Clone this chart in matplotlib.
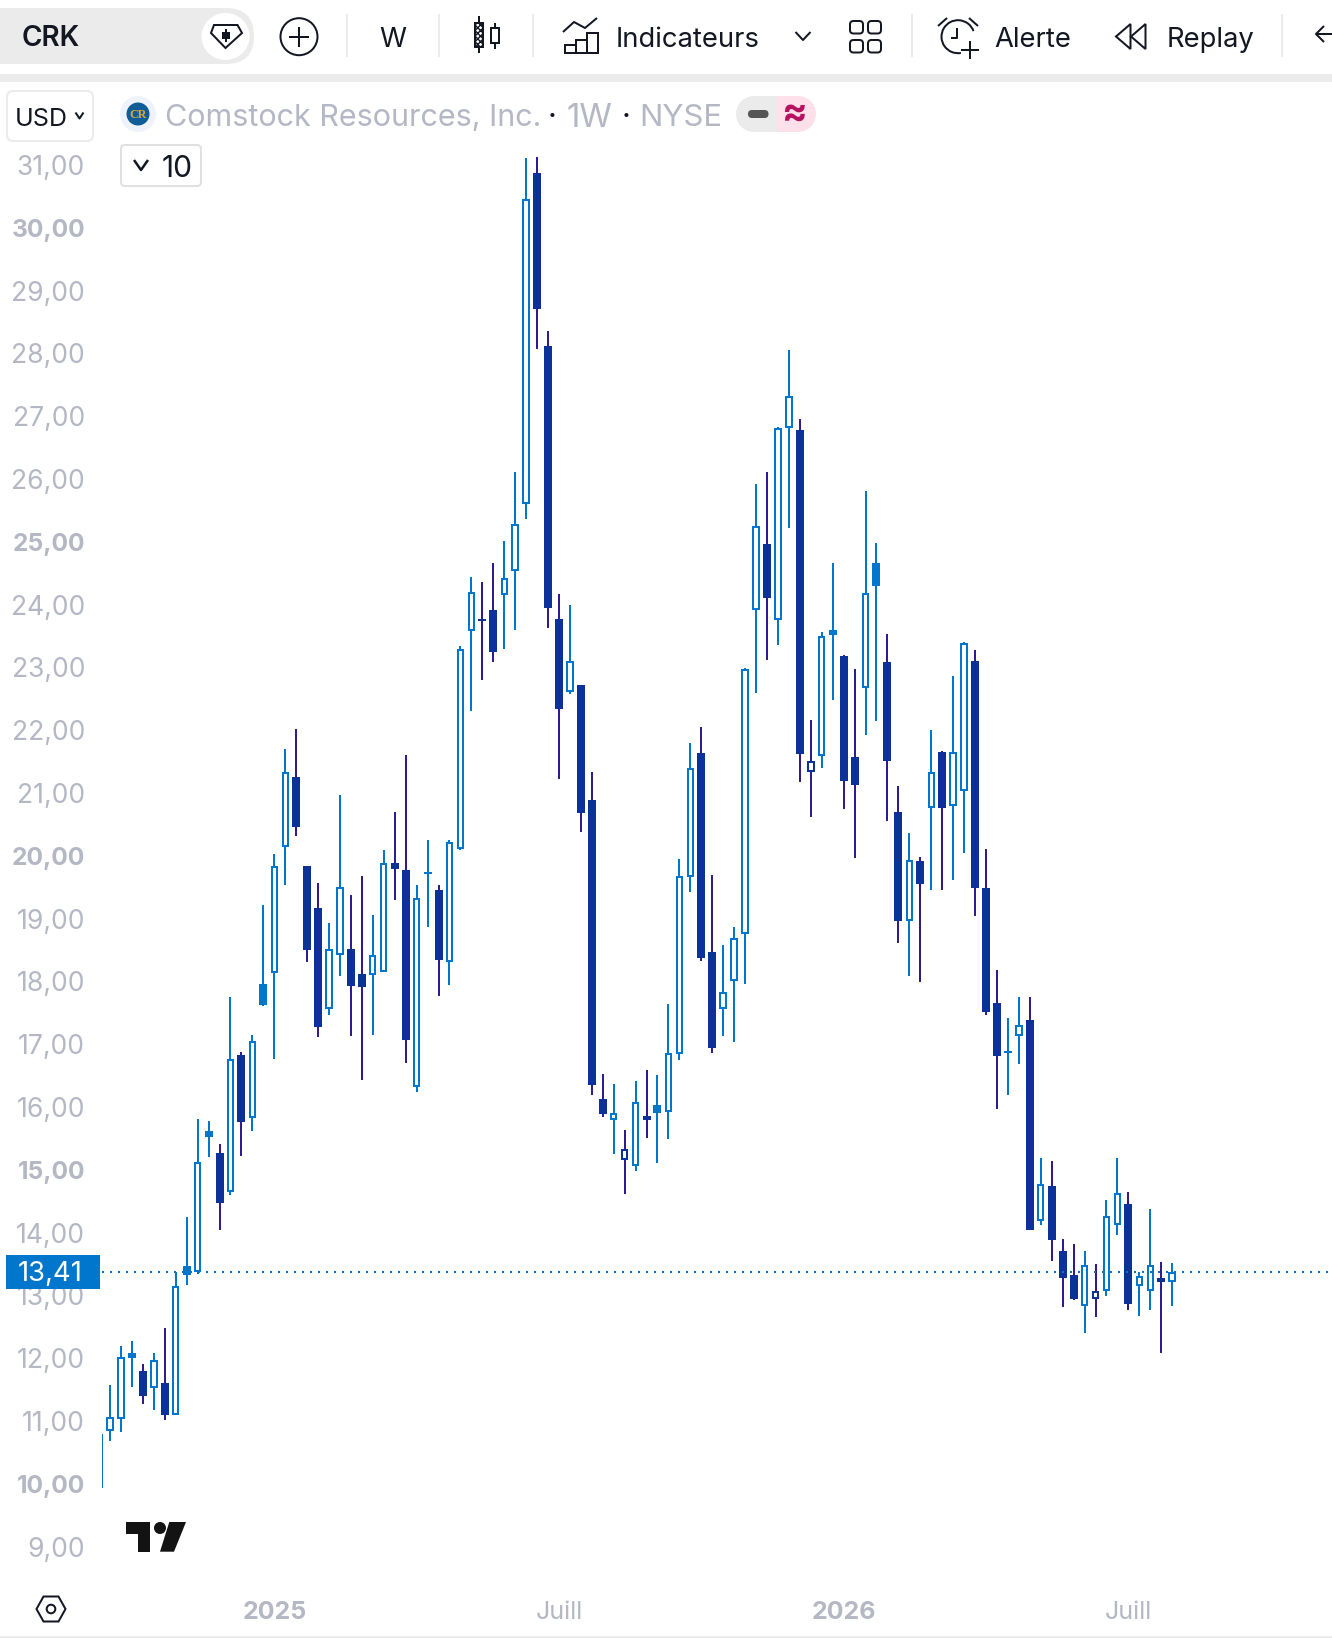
import matplotlib
matplotlib.use('Agg')
import matplotlib.pyplot as plt
from matplotlib.patches import Circle, Ellipse, FancyBboxPatch, Polygon, Rectangle, Wedge, Arc
from matplotlib.transforms import ScaledTranslation
import numpy as np

plt.rcParams['font.family'] = ['Inter', 'DejaVu Sans']

# weekly candles, h = hollow blue, f = filled blue, d = filled dark, e = hollow dark
highs = [10.83, 11.60, 12.23, 12.31, 11.94, 12.12, 12.51, 13.40, 14.28, 15.84, 15.81, 15.44, 17.78, 16.91, 17.18,
         19.25, 20.06, 21.73, 22.05, 19.87, 19.60, 18.96, 21.00, 19.41, 19.71, 19.09, 20.13, 20.73, 21.64, 19.57,
         20.28, 19.57, 20.28, 23.37, 24.47, 24.39, 24.70, 25.04, 26.14, 31.15, 31.16, 28.39, 24.20, 24.03, 22.75,
         21.37, 16.56, 16.40, 15.67, 16.45, 16.62, 16.54, 17.67, 19.98, 21.83, 22.08, 19.73, 18.61, 18.90, 23.03,
         25.95, 26.15, 26.86, 28.09, 26.99, 22.20, 23.60, 24.70, 23.23, 23.00, 25.84, 25.02, 23.57, 21.14, 20.40,
         20.01, 22.04, 21.70, 22.90, 23.43, 23.31, 20.14, 18.21, 17.45, 17.78, 17.78, 15.22, 15.17, 13.93, 13.85,
         13.74, 13.53, 14.55, 15.22, 14.68, 13.41, 14.41, 13.56, 13.55]
body_top = [10.83, 11.09, 12.05, 12.12, 11.83, 12.00, 11.64, 13.19, 13.50, 15.15, 15.65, 15.30, 16.79, 16.86, 17.08,
            17.99, 19.87, 21.37, 21.29, 19.87, 19.20, 18.55, 19.53, 18.55, 18.15, 18.45, 19.92, 19.92, 19.81, 19.36,
            19.78, 19.49, 20.26, 23.32, 24.24, 23.80, 23.95, 24.45, 25.31, 30.49, 30.91, 28.15, 23.80, 23.14, 22.75,
            20.92, 16.16, 15.93, 15.36, 16.12, 15.89, 16.06, 16.89, 19.71, 21.43, 21.67, 18.50, 17.86, 18.73, 23.01,
            25.28, 25.00, 26.84, 27.35, 26.82, 21.54, 23.54, 23.63, 23.22, 21.60, 24.21, 24.70, 23.12, 20.73, 19.96,
            19.95, 21.36, 21.69, 21.68, 23.42, 23.14, 19.52, 17.69, 16.93, 17.34, 17.42, 14.80, 14.77, 13.74, 13.36,
            13.51, 13.10, 14.29, 14.67, 14.49, 13.34, 13.51, 13.31, 13.40]
body_bot = [9.97, 10.88, 11.07, 12.04, 11.43, 11.56, 11.13, 11.13, 13.36, 13.40, 15.56, 14.50, 14.68, 15.79, 15.86,
            17.66, 18.17, 20.17, 20.49, 18.53, 17.31, 17.59, 18.45, 17.96, 17.94, 18.14, 18.18, 19.82, 17.10, 16.35,
            19.74, 18.37, 18.34, 20.14, 23.62, 23.77, 23.28, 24.19, 24.57, 25.64, 28.74, 23.98, 22.37, 22.64, 20.71,
            16.38, 15.92, 15.82, 15.19, 15.10, 15.83, 15.94, 15.95, 16.88, 19.70, 18.41, 16.97, 17.60, 18.04, 18.78,
            23.94, 24.14, 23.78, 26.84, 21.66, 21.36, 21.62, 23.55, 21.23, 21.16, 22.70, 24.33, 21.55, 19.00, 19.00,
            19.58, 20.79, 20.79, 20.83, 21.06, 19.52, 17.55, 16.84, 16.89, 17.16, 14.07, 14.21, 13.92, 13.31, 12.97,
            12.86, 12.98, 13.10, 14.16, 12.90, 13.18, 13.10, 13.24, 13.25]
lows = [9.97, 10.72, 10.85, 11.58, 11.31, 11.21, 11.05, 11.13, 13.20, 13.37, 15.24, 14.07, 14.63, 15.25, 15.65,
        17.64, 16.80, 19.57, 20.35, 18.34, 17.15, 17.50, 18.12, 17.16, 16.46, 17.18, 18.18, 19.33, 16.73, 16.27,
        18.90, 17.80, 17.98, 20.13, 22.34, 22.83, 23.12, 23.33, 23.63, 25.40, 28.10, 23.66, 21.26, 22.61, 20.41,
        16.22, 15.87, 15.28, 14.65, 15.01, 15.54, 15.14, 15.52, 16.78, 19.46, 18.36, 16.89, 17.16, 17.07, 17.99,
        22.62, 23.15, 23.39, 25.25, 21.21, 20.65, 21.43, 22.51, 20.78, 20.00, 21.95, 22.18, 20.59, 18.65, 18.12,
        18.03, 19.49, 19.49, 19.65, 20.08, 19.08, 17.50, 16.00, 16.22, 16.72, 14.07, 14.16, 13.58, 12.84, 12.96,
        12.43, 12.69, 13.02, 13.99, 12.80, 12.70, 12.80, 12.12, 12.87]
kinds = list('h'
             'hhfdhdhfhfdhdhfhhddd'
             'hhddhhddhfdhhhddhhhd'
             'ddhdddhehdfhhhddhhhh'
             'dhhdehfddhfddhdhdhhd'
             'ddfhdhdddhehhdhhdh')

price_ticks = list(range(9, 32))
price_labels = [f'{p},00' for p in price_ticks]
time_ticks = [16, 42, 68, 94]
time_labels = ['2025', 'Juill', '2026', 'Juill']
last_price = 13.41

W, H = 1332, 1638
BLUE = '#0077cc'
DARK = '#0c3299'
PURPLE = '#311b92'
GREY = '#b4b7c4'
BAND = '#ebebeb'
INK = '#131722'
px = 0.72  # one pixel in points at dpi 100

fig = plt.figure(figsize=(W / 100, H / 100), dpi=100, facecolor='white')

# price pane
left, right, top, bottom = 102, W, 82, 1595
ax = fig.add_axes([left / W, 1 - bottom / H, (right - left) / W, (bottom - top) / H])
step = 10.95
scale = 62.8
ax.set_xlim((left - 110) / step + 1, (right - 110) / step + 1)
ax.set_ylim(last_price + (1271.7 - bottom) / scale, last_price + (1271.7 - top) / scale)
for s in ax.spines.values():
    s.set_visible(False)

x = np.arange(len(highs))
highs, lows = np.array(highs), np.array(lows)
body_top, body_bot = np.array(body_top), np.array(body_bot)
kinds = np.array(kinds)

warm = np.isin(kinds, ['h', 'f'])
wick_colors = np.where(warm, BLUE, PURPLE)
ax.vlines(x, body_top, highs, colors=wick_colors, linewidth=2 * px, zorder=2)
ax.vlines(x, lows, body_bot, colors=wick_colors, linewidth=2 * px, zorder=2)

for kind, color in [('f', BLUE), ('d', DARK)]:
    m = kinds == kind
    ax.bar(x[m], (body_top - body_bot)[m], bottom=body_bot[m], width=8 / step, color=color, linewidth=0, zorder=3)
for kind, color in [('h', BLUE), ('e', DARK)]:
    m = kinds == kind
    # the stroke sits inside the body edge
    ax.bar(x[m], (body_top - body_bot)[m] - 2 / scale, bottom=body_bot[m] + 1 / scale, width=5.4 / step,
           facecolor='white', edgecolor=color, linewidth=2 * px, zorder=3)

ax.axhline(last_price, color=BLUE, linewidth=2 * px, linestyle=(0, (1, 3)), dash_capstyle='butt', zorder=4)

ax.set_yticks(price_ticks)
ax.set_yticklabels(price_labels)
ax.set_xticks(time_ticks)
ax.set_xticklabels(time_labels)
ax.tick_params(axis='y', length=0, pad=17 * px, labelsize=26.5 * px, labelcolor=GREY)
ax.tick_params(axis='x', length=0, pad=6 * px, labelsize=25 * px, labelcolor=GREY)
nudge = ScaledTranslation(0, 2 / 100, fig.dpi_scale_trans)
for lab, p in zip(ax.get_yticklabels(), price_ticks):
    lab.set_transform(lab.get_transform() + nudge)
    if p % 5 == 0:
        lab.set_fontweight('bold')
        lab.set_fontsize(24.6 * px)
for lab in ax.get_xticklabels():
    if lab.get_text().isdigit():
        lab.set_fontweight('bold')

# toolbar and other chrome, in pixel coordinates
ov = fig.add_axes([0, 0, 1, 1], facecolor='none')
ov.set_xlim(0, W)
ov.set_ylim(H, 0)
ov.axis('off')


def line(xs, ys, color=INK, lw=2.0, **kw):
    ov.plot(xs, ys, color=color, linewidth=lw * px, solid_capstyle=kw.pop('cap', 'butt'), **kw)


def box(x0, y0, x1, y1, r, fc='none', ec='none', lw=2.0):
    ov.add_patch(FancyBboxPatch((x0 + r, y0 + r), x1 - x0 - 2 * r, y1 - y0 - 2 * r,
                                boxstyle=f'round,pad={r},rounding_size={r}',
                                facecolor=fc, edgecolor=ec, linewidth=lw * px))


def label(tx, ty, s, size=27.4, color=INK, ha='left', **kw):
    ov.text(tx, ty, s, fontsize=size * px, color=color, ha=ha, va='center_baseline', **kw)


def chevron(cx, cy, w, h, lw=2.0):
    line([cx - w, cx, cx + w], [cy - h, cy + h, cy - h], lw=lw)


# bands
ov.add_patch(Rectangle((0, 74), W, 8, facecolor=BAND, edgecolor='none'))
ov.add_patch(Rectangle((0, 1636), W, 2, facecolor=BAND, edgecolor='none'))

# symbol pill
box(-30, 8, 254, 64, 28, fc=BAND)
ov.add_patch(Ellipse((225.5, 36.5), 48, 47, facecolor='white', edgecolor='none'))
label(22, 36, 'CRK', size=28, fontweight='semibold')
ov.add_patch(Polygon([(214, 25), (237.5, 25), (242, 33), (225.5, 48), (211, 33)], closed=True,
                     facecolor='none', edgecolor=INK, linewidth=2 * px))
ov.add_patch(Rectangle((222, 32), 8, 7, facecolor=INK, edgecolor='none'))
line([226, 226], [29, 42], lw=2)

# add symbol
ov.add_patch(Circle((299, 36.7), 18.5, facecolor='none', edgecolor=INK, linewidth=2 * px))
line([289, 309], [36.7, 36.7])
line([299, 299], [27, 47])

for sx in [347, 439, 532.5, 912, 1282]:
    line([sx, sx], [14, 57], color=BAND, lw=2)

label(393, 37, 'W', ha='center')

# candle icon
line([479, 479], [16, 53])
ov.add_patch(Rectangle((475, 23), 8, 24, facecolor='white', edgecolor=INK, linewidth=2 * px, hatch='xxxxxx', zorder=3))
line([495, 495], [23, 49])
ov.add_patch(Rectangle((491, 28), 8, 15, facecolor='white', edgecolor=INK, linewidth=2 * px, zorder=3))

# indicators icon
line([563, 574, 585, 597], [32, 22, 28, 18])
for bx, by in [(565, 45), (576, 40), (587, 33)]:
    ov.add_patch(Rectangle((bx, by), 10.5, 53 - by, facecolor='none', edgecolor=INK, linewidth=2 * px))
label(616, 37, 'Indicateurs')
chevron(803, 36, 7.5, 4)

# layouts icon
for gx in [850, 868]:
    for gy in [21, 40]:
        box(gx, gy, gx + 13, gy + 12.5, 3.5, ec=INK)

# alert icon
ov.add_patch(Arc((958, 36.7), 33, 33, theta1=80, theta2=360 - 20, facecolor='none', edgecolor=INK, linewidth=2 * px))
line([957, 957, 951], [28, 38, 38])
line([938, 947], [26, 18])
line([969, 978], [18, 26])
line([961, 979], [50, 50])
line([970, 970], [41, 59])
label(994.5, 37, 'Alerte')

# replay icon
ov.add_patch(Polygon([(1116, 36.5), (1130.5, 24), (1130.5, 49)], closed=True, facecolor='none', edgecolor=INK, linewidth=2 * px))
ov.add_patch(Polygon([(1131, 36.5), (1145.5, 24), (1145.5, 49)], closed=True, facecolor='none', edgecolor=INK, linewidth=2 * px))
label(1167, 37, 'Replay')

# back arrow
line([1316, 1332], [34, 34])
line([1324, 1316, 1324], [26, 34, 42])

# legend row
box(7, 91, 93, 141, 6, fc='white', ec=BAND)
label(15, 116.5, 'USD', size=25)
chevron(79.5, 115.5, 4, 3)
ov.add_patch(Circle((138, 114), 18, facecolor='#eef2fb', edgecolor='none'))
ov.add_patch(Circle((138, 114), 11.5, facecolor='#0f5c96', edgecolor='none'))
ov.text(138, 114.5, 'CR', fontsize=12 * px, color='#d9a441', ha='center', va='center', family='Liberation Serif', fontweight='bold')
label(165, 115, 'Comstock Resources, Inc.', size=30.5, color=GREY)
label(552, 115, '·', size=31, color=INK, ha='center')
label(567, 115, '1W', size=33, color=GREY)
label(626, 115, '·', size=31, color=INK, ha='center')
label(639, 115, 'NYSE', size=31, color=GREY)

# status pill
ov.add_patch(Wedge((754, 114), 18, 90, 270, facecolor=BAND, edgecolor='none'))
ov.add_patch(Rectangle((754, 96), 22.6, 36, facecolor=BAND, edgecolor='none'))
ov.add_patch(Rectangle((776.6, 96), 21.4, 36, facecolor='#fde0e9', edgecolor='none'))
ov.add_patch(Wedge((798, 114), 18, -90, 90, facecolor='#fde0e9', edgecolor='none'))
box(748, 110, 768.5, 118, 4, fc='#555555')
ov.text(794, 114, '≈', fontsize=38 * px, color='#b5135f', ha='center', va='center', fontweight='bold')

# bars in the legend
box(121, 145, 201, 186, 4, fc='white', ec='#e0e0e0')
chevron(141, 165, 7, 5, lw=2.5)
label(162, 166, '10', size=30)

# last price tag
ov.add_patch(Rectangle((6, 1255), 94, 34, facecolor=BLUE, edgecolor='none'))
label(83, 1271, '13,41', size=27.5, color='white', ha='right')

# logo
LOGO = '#131313'
ov.add_patch(Polygon([(126, 1522), (150, 1522), (150, 1551.7), (138, 1551.7), (138, 1534), (126, 1534)], closed=True, facecolor=LOGO, edgecolor='none'))
ov.add_patch(Circle((160, 1528), 6, facecolor=LOGO, edgecolor='none'))
ov.add_patch(Polygon([(169.3, 1522), (186, 1522), (174, 1551.7), (160, 1551.7)], closed=True, facecolor=LOGO, edgecolor='none'))

# settings hexagon
ov.add_patch(Polygon([(36.5, 1609), (43.5, 1596.5), (58.5, 1596.5), (65.5, 1609), (58.5, 1621.5), (43.5, 1621.5)],
                     closed=True, facecolor='none', edgecolor=INK, linewidth=2 * px))
ov.add_patch(Circle((51, 1609), 4.3, facecolor='none', edgecolor=INK, linewidth=2 * px))

fig.savefig('out.png', dpi=100)
